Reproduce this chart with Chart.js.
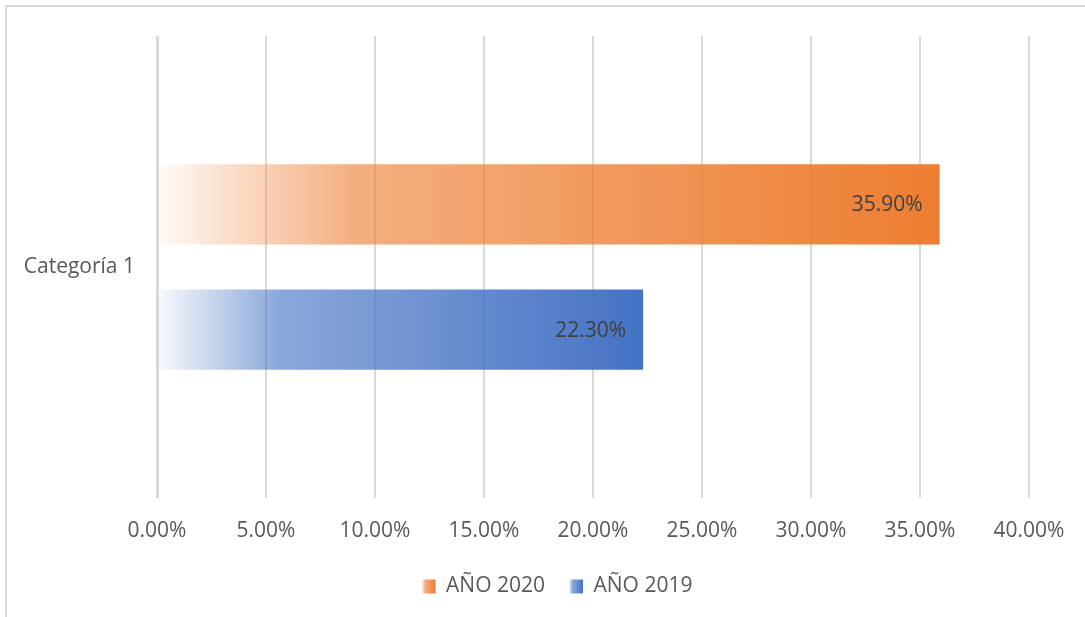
<!DOCTYPE html>
<html>
<head>
<meta charset="utf-8">
<script src="https://cdn.jsdelivr.net/npm/chart.js@4"></script>
<style>
  html, body { margin: 0; padding: 0; background: #fff; overflow: hidden; }
  #frame {
    position: absolute; left: 5px; top: 5px; width: 2000px; height: 2000px;
    border: 2px solid #d9d9d9; box-sizing: border-box;
  }
  #wrap { position: absolute; left: 0; top: 0; width: 1085px; height: 607px; }
</style>
</head>
<body>
<div id="frame"></div>
<div id="wrap"><canvas id="chart" width="1085" height="607"></canvas></div>
<script>
const categories = ["Categoría 1"];
const seriesNames = ["AÑO 2020", "AÑO 2019"];
const values2020 = [35.9];
const values2019 = [22.3];
const seriesColors = [[237, 125, 49], [68, 114, 196]];

const FONT = "'Open Sans', sans-serif";
const LEGEND_CENTER = 557;

function rgba(c, a) {
  return "rgba(" + c[0] + "," + c[1] + "," + c[2] + "," + a + ")";
}

// horizontal fade, light at the base of the bar, full colour at its end
function barGradient(ctx, x0, x1, c) {
  const g = ctx.createLinearGradient(x0, 0, x1, 0);
  g.addColorStop(0, rgba(c, 0.03));
  g.addColorStop(0.25, rgba(c, 0.62));
  g.addColorStop(1, rgba(c, 1));
  return g;
}

function fadeFill(dsIndex) {
  return function (context) {
    const chart = context.chart;
    if (!chart.chartArea || context.type !== "data") return rgba(seriesColors[dsIndex], 0.7);
    const xs = chart.scales.x;
    const x0 = xs.getPixelForValue(0);
    const x1 = xs.getPixelForValue(context.raw);
    return barGradient(chart.ctx, x0, x1, seriesColors[dsIndex]);
  };
}

const valueLabels = {
  id: "valueLabels",
  afterLayout(chart) {
    // legend sits a bit right of the plot centre in the original
    const lg = chart.legend;
    if (!lg) return;
    const mid = (lg.left + lg.right) / 2;
    const dx = LEGEND_CENTER - mid;
    lg.left += dx;
    lg.right += dx;
  },
  afterDatasetsDraw(chart) {
    const ctx = chart.ctx;
    ctx.save();
    ctx.font = "21px " + FONT;
    ctx.fillStyle = "#404040";
    ctx.textAlign = "right";
    ctx.textBaseline = "middle";
    chart.data.datasets.forEach((ds, i) => {
      chart.getDatasetMeta(i).data.forEach((el, j) => {
        ctx.fillText(ds.data[j].toFixed(2) + "%", el.x - 17, el.y + 1);
      });
    });
    ctx.restore();
  },
  afterDraw(chart) {
    // legend swatches get the same fade as the bars
    const lg = chart.legend;
    if (!lg || !lg.legendHitBoxes) return;
    const ctx = chart.ctx;
    const bw = lg.options.labels.boxWidth;
    const bh = lg.options.labels.boxHeight;
    lg.legendHitBoxes.forEach((hb, i) => {
      const top = hb.top + (hb.height - bh) / 2;
      ctx.save();
      ctx.fillStyle = "#fff";
      ctx.fillRect(hb.left - 1, top - 1, bw + 2, bh + 2);
      ctx.fillStyle = barGradient(ctx, hb.left, hb.left + bw, seriesColors[i]);
      ctx.fillRect(hb.left, top, bw, bh);
      ctx.restore();
    });
  }
};

new Chart(document.getElementById("chart"), {
  type: "bar",
  data: {
    labels: categories,
    datasets: [
      {
        label: seriesNames[0],
        data: values2020,
        backgroundColor: fadeFill(0),
        borderWidth: 0,
        categoryPercentage: 0.542,
        barPercentage: 0.64
      },
      {
        label: seriesNames[1],
        data: values2019,
        backgroundColor: fadeFill(1),
        borderWidth: 0,
        categoryPercentage: 0.542,
        barPercentage: 0.64
      }
    ]
  },
  options: {
    indexAxis: "y",
    responsive: false,
    animation: false,
    layout: { padding: { top: 36, right: 56, left: 0, bottom: 0 } },
    scales: {
      x: {
        min: 0,
        max: 40,
        ticks: {
          stepSize: 5,
          padding: 20,
          color: "#595959",
          font: { family: FONT, size: 21 },
          callback: (v) => v.toFixed(2) + "%"
        },
        grid: {
          color: "#d9d9d9",
          lineWidth: (c) => (c.index === 0 ? 3 : 2),
          drawTicks: false
        },
        border: { display: false },
        afterFit: (s) => { s.height = 54; }
      },
      y: {
        ticks: {
          padding: 22,
          color: "#595959",
          font: { family: FONT, size: 21 }
        },
        grid: { display: false, drawTicks: false },
        border: { display: false },
        afterFit: (s) => { s.width = 157; }
      }
    },
    plugins: {
      legend: {
        position: "bottom",
        labels: {
          boxWidth: 14,
          boxHeight: 14,
          padding: 24,
          color: "#595959",
          font: { family: FONT, size: 21 }
        }
      },
      tooltip: { enabled: false }
    }
  },
  plugins: [valueLabels]
});
</script>
</body>
</html>
